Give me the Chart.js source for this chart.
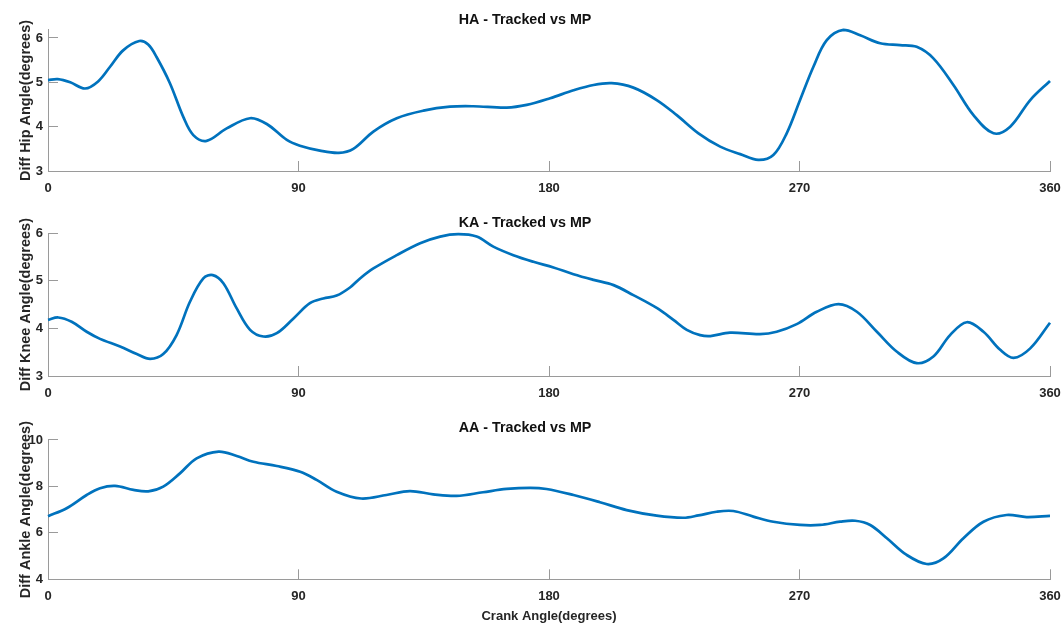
<!DOCTYPE html>
<html>
<head>
<meta charset="utf-8">
<title>Tracked vs MP joint angle differences</title>
<script src="https://cdn.jsdelivr.net/npm/chart.js@4.4.1/dist/chart.umd.min.js"></script>
<style>
  html, body { margin: 0; padding: 0; background: #ffffff; }
  #wrap { position: relative; width: 1063px; height: 625px; overflow: hidden; }
  #wrap canvas { position: absolute; left: 0; }
</style>
</head>
<body>
<div id="wrap">
  <canvas id="hip" width="1063" height="200" style="top:0px"></canvas>
  <canvas id="knee" width="1063" height="205" style="top:200px"></canvas>
  <canvas id="ankle" width="1063" height="220" style="top:405px"></canvas>
</div>
<script>
// Crank angle tick positions (degrees)
const crankTicks = [0, 90, 180, 270, 360];

// Hip angle difference (degrees) vs crank angle
const hipCrank = [0, 3.5, 8, 13.3, 18, 22.3, 27, 32.8, 36, 39, 43.8, 48.6, 52.2, 57, 64.2, 72.6, 78.6, 85.8,
  90.5, 97.7, 104.5, 109.7, 116.9, 125.3, 134.9, 144.4, 152.8, 164.8, 172, 180.4, 188.8, 196, 202.5, 210.3,
  218.7, 225.9, 233.7, 241.5, 248.7, 255.2, 260.6, 265.4, 270.2, 275, 279.8, 285.8, 291.8, 299, 306.1, 312.1,
  318.1, 325.3, 332.5, 339.7, 345.7, 352.9, 360];
const hipDiff = [5.05, 5.07, 5.0, 4.86, 5.02, 5.35, 5.72, 5.93, 5.85, 5.57, 4.98, 4.22, 3.81, 3.68, 3.96, 4.19, 4.06, 3.70,
  3.57, 3.46, 3.41, 3.50, 3.89, 4.19, 4.36, 4.45, 4.46, 4.43, 4.49, 4.64, 4.82, 4.94, 4.98, 4.88,
  4.60, 4.26, 3.85, 3.55, 3.38, 3.25, 3.36, 3.85, 4.60, 5.35, 5.95, 6.18, 6.06, 5.88, 5.84, 5.80,
  5.54, 4.94, 4.26, 3.85, 4.00, 4.60, 5.03];

// Knee angle difference (degrees) vs crank angle
const kneeCrank = [0, 3.7, 8.5, 13.9, 18.7, 25.9, 31.9, 36.7, 41.4, 46.2, 51, 55.8, 59.2, 63, 67.8, 72.6, 77.4, 82.2,
  88.2, 94.1, 98.9, 103.7, 108.5, 112.1, 116.9, 125.3, 133.7, 140.9, 147.4, 154, 160, 167.2, 174.4, 181.6,
  188.8, 196, 203.2, 210.3, 218.7, 224.7, 229.5, 234.3, 238, 245, 255.8, 261.8, 269, 276.2, 284, 290.6,
  297.8, 305, 312.1, 318.1, 324.1, 330.1, 336.1, 342.1, 346.9, 352.9, 360];
const kneeDiff = [4.18, 4.23, 4.14, 3.93, 3.78, 3.62, 3.46, 3.36, 3.46, 3.86, 4.56, 5.05, 5.12, 4.95, 4.42, 3.97, 3.83, 3.90,
  4.21, 4.53, 4.63, 4.69, 4.86, 5.05, 5.26, 5.54, 5.79, 5.93, 5.98, 5.93, 5.72, 5.54, 5.40, 5.28,
  5.14, 5.02, 4.91, 4.70, 4.43, 4.18, 3.97, 3.86, 3.84, 3.91, 3.88, 3.93, 4.09, 4.35, 4.51, 4.35,
  3.93, 3.51, 3.27, 3.41, 3.86, 4.13, 3.93, 3.55, 3.38, 3.58, 4.12];

// Ankle angle difference (degrees) vs crank angle
const ankleCrank = [0, 6.7, 13.9, 18.7, 24.1, 30.7, 36, 41.4, 47.4, 53.4, 61.3, 67.8, 73.8, 82.2, 90.6, 96.5, 103.7,
  112.5, 121.6, 130, 138.4, 146.8, 156.3, 164.8, 173.2, 179.1, 188.8, 198.3, 207.9, 218.7, 228.3, 233.7,
  240.2, 246.2, 253.4, 260.6, 270.2, 277.4, 284.6, 290, 295.4, 301.4, 308.5, 315.7, 321.7, 328.9, 336.1,
  344.4, 351.6, 360];
const ankleDiff = [6.72, 7.06, 7.63, 7.92, 8.02, 7.85, 7.79, 7.99, 8.56, 9.21, 9.50, 9.31, 9.06, 8.88, 8.63, 8.28, 7.77,
  7.48, 7.63, 7.80, 7.66, 7.59, 7.75, 7.89, 7.94, 7.89, 7.63, 7.32, 6.98, 6.74, 6.65, 6.75,
  6.91, 6.94, 6.70, 6.48, 6.34, 6.34, 6.48, 6.52, 6.34, 5.77, 5.05, 4.66, 4.90, 5.77, 6.48,
  6.77, 6.68, 6.73];

const FONT = "'Liberation Sans', Arial, Helvetica, sans-serif";
const LINE_COLOR = '#0072BD';
const AXIS_COLOR = '#9a9a9a';
const TEXT_COLOR = '#262626';

function boldFont(size) {
  return { family: FONT, size: size, weight: 'bold', lineHeight: 1.2 };
}

function makePanel(canvasId, xs, ys, o) {
  const axisGrid = { drawOnChartArea: false, drawTicks: true, tickLength: -10, color: AXIS_COLOR, lineWidth: 1 };
  const axisBorder = { display: true, color: AXIS_COLOR, width: 1 };
  return new Chart(document.getElementById(canvasId), {
    type: 'line',
    data: {
      datasets: [{
        data: xs.map((x, i) => ({ x: x, y: ys[i] })),
        borderColor: LINE_COLOR,
        borderWidth: 2.7,
        pointRadius: 0,
        fill: false,
        tension: 0.35,
        clip: false
      }]
    },
    options: {
      responsive: false,
      animation: false,
      events: [],
      layout: { padding: { left: 0, right: 13, top: 0, bottom: 0 } },
      plugins: {
        legend: { display: false },
        tooltip: { enabled: false },
        title: {
          display: true,
          text: o.title,
          color: '#111111',
          font: boldFont(14.3),
          padding: { top: o.titleTop, bottom: o.titleBottom }
        }
      },
      scales: {
        x: {
          type: 'linear',
          position: 'bottom',
          min: crankTicks[0],
          max: crankTicks[crankTicks.length - 1],
          afterBuildTicks: s => { s.ticks = crankTicks.map(v => ({ value: v })); },
          ticks: { color: TEXT_COLOR, font: boldFont(13), padding: 19.5, maxRotation: 0, autoSkip: false },
          grid: axisGrid,
          border: axisBorder,
          title: o.xTitle
            ? { display: true, text: o.xTitle, color: TEXT_COLOR, font: boldFont(13), padding: { top: 0, bottom: 1 } }
            : { display: false },
          afterFit: s => {
            s.height = o.xHeight;
            s.paddingLeft = 0;
            s.paddingRight = 0;
          }
        },
        y: {
          min: o.ymin,
          max: o.ymax,
          afterBuildTicks: s => { s.ticks = o.yTicks.map(v => ({ value: v })); },
          ticks: { color: TEXT_COLOR, font: boldFont(13), padding: 15 },
          grid: axisGrid,
          border: axisBorder,
          title: { display: true, text: o.yTitle, color: TEXT_COLOR, font: boldFont(14.5), padding: { top: 17.5, bottom: 0 } },
          afterFit: s => {
            s.width = 48;
            s.paddingTop = 0;
            s.paddingBottom = 0;
          }
        }
      }
    }
  });
}

makePanel('hip', hipCrank, hipDiff, {
  title: 'HA - Tracked vs MP', titleTop: 11.4, titleBottom: 1.4,
  yTitle: 'Diff Hip Angle(degrees)', ymin: 3, ymax: 6.18, yTicks: [3, 4, 5, 6],
  xHeight: 29
});

makePanel('knee', kneeCrank, kneeDiff, {
  title: 'KA - Tracked vs MP', titleTop: 14.6, titleBottom: 1.5,
  yTitle: 'Diff Knee Angle(degrees)', ymin: 3, ymax: 6, yTicks: [3, 4, 5, 6],
  xHeight: 29
});

makePanel('ankle', ankleCrank, ankleDiff, {
  title: 'AA - Tracked vs MP', titleTop: 14.8, titleBottom: 3.0,
  yTitle: 'Diff Ankle Angle(degrees)', ymin: 4, ymax: 10, yTicks: [4, 6, 8, 10],
  xTitle: 'Crank Angle(degrees)', xHeight: 45.7
});
</script>
</body>
</html>
